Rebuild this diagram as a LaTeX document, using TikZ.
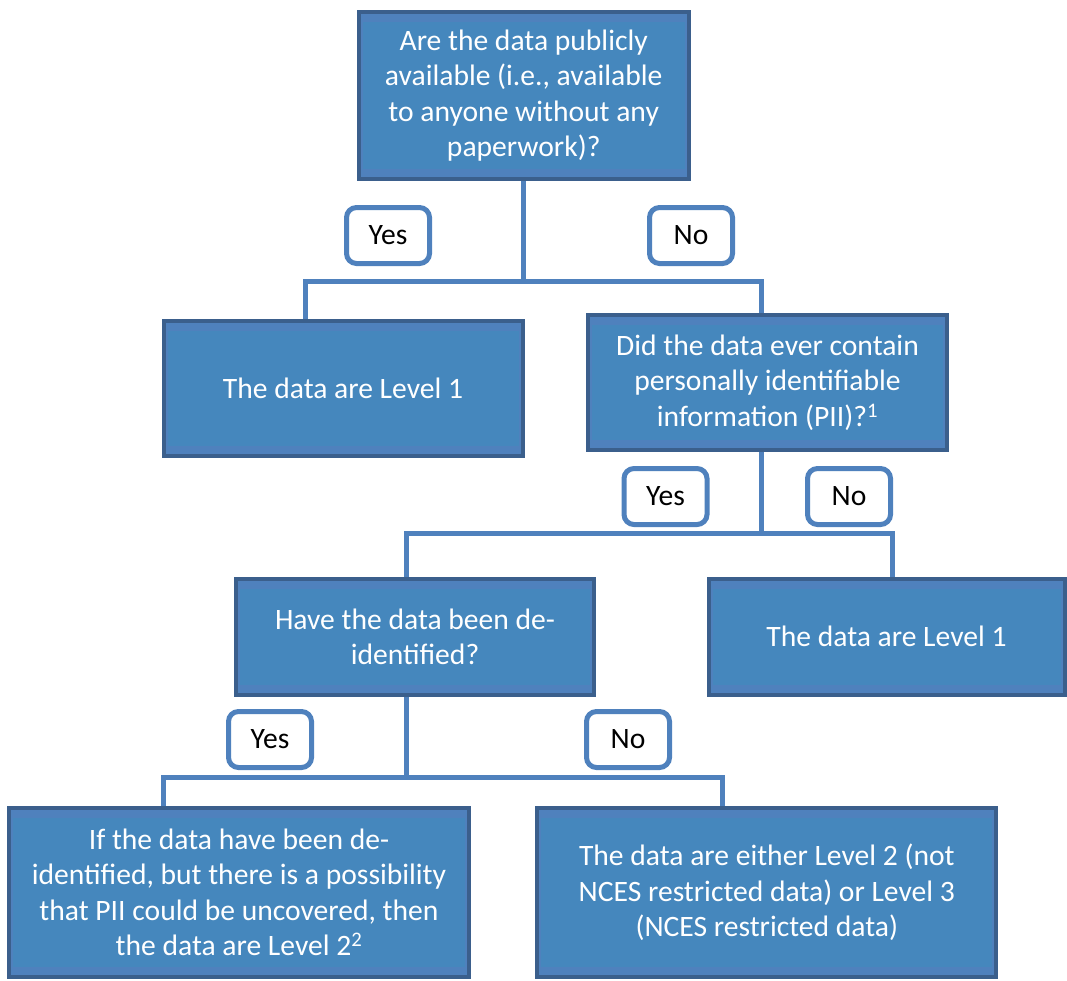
\documentclass[tikz,border=0pt]{standalone}
\usepackage{fontspec}
\setmainfont{Carlito}
\definecolor{boxfill}{HTML}{4587BD}
\definecolor{boxband}{HTML}{4F81BD}
\definecolor{boxedge}{HTML}{3B5F8C}
\definecolor{linec}{HTML}{4F81BD}
\tikzset{
 box/.style={draw=boxedge, line width=4pt, fill=boxfill, text=white, align=center,
  font=\fontsize{29.6}{35.4}\selectfont, inner sep=0pt,
  path picture={
   \fill[boxband] (path picture bounding box.north west) rectangle ([yshift=-10pt]path picture bounding box.north east);
   \fill[boxband] (path picture bounding box.south west) rectangle ([yshift=10pt]path picture bounding box.south east);
   \fill[boxband] (path picture bounding box.south west) rectangle ([xshift=4pt]path picture bounding box.north west);
   \fill[boxband] (path picture bounding box.south east) rectangle ([xshift=-4pt]path picture bounding box.north east);
  }},
 lbl/.style={draw=linec, line width=5pt, rounded corners=10pt, fill=white, text=black,
  minimum width=83pt, minimum height=56pt, font=\fontsize{29.6}{35.4}\selectfont, inner sep=0pt},
 conn/.style={draw=linec, line width=5pt}
}
\begin{document}
\begin{tikzpicture}[x=1pt,y=-1pt]
\useasboundingbox (0,0) rectangle (1067,980);
% boxes
\node[box, minimum width=330pt, minimum height=167pt] (q1) at (523.7,95.5)
 {Are the data publicly\\available (i.e., available\\to anyone without any\\paperwork)?};
\node[box, minimum width=359pt, minimum height=135pt] (l1) at (343,388.4) {The data are Level 1};
\node[box, minimum width=359pt, minimum height=135pt] (q2) at (767.5,382.5)
 {Did the data ever contain\\personally identifiable\\information (PII)?\textsuperscript{1}};
\node[box, minimum width=358pt, minimum height=116pt] (q3) at (415,636.8)
 {Have the data been de-\\identified?};
\node[box, minimum width=356pt, minimum height=116pt] (l1b) at (886.5,636.5) {The data are Level 1};
\node[box, minimum width=460pt, minimum height=169pt] (b1) at (239,892.5)
 {If the data have been de-\\identified, but there is a possibility\\that PII could be uncovered, then\\the data are Level 2\textsuperscript{2}};
\node[box, minimum width=459pt, minimum height=169pt] (b2) at (766.8,892.5)
 {The data are either Level 2 (not\\NCES restricted data) or Level 3\\(NCES restricted data)};
% junction points
\coordinate (j1) at (523.7,281);
\coordinate (j1a) at (305,281);
\coordinate (j1b) at (761,281);
\coordinate (j2) at (761,533);
\coordinate (j2a) at (406,533);
\coordinate (j2b) at (892,533);
\coordinate (j3) at (406,777);
\coordinate (j3a) at (163,777);
\coordinate (j3b) at (722.7,777);
% connectors
\draw[conn] (q1.south) -- (j1);
\draw[conn] (l1.north -| j1a) -- (j1a) -- (j1b) -- (q2.north -| j1b);
\draw[conn] (q2.south -| j2) -- (j2);
\draw[conn] (q3.north -| j2a) -- (j2a) -- (j2b) -- (l1b.north -| j2b);
\draw[conn] (q3.south -| j3) -- (j3);
\draw[conn] (b1.north -| j3a) -- (j3a) -- (j3b) -- (b2.north -| j3b);
% labels
\node[lbl] (yes1) at (388,235.5) {Yes};
\node[lbl] (no1) at (691,235.5) {No};
\node[lbl] (yes2) at (665.5,496.5) {Yes};
\node[lbl] (no2) at (849,496.5) {No};
\node[lbl] (yes3) at (270,739.5) {Yes};
\node[lbl] (no3) at (628,739.5) {No};
\end{tikzpicture}
\end{document}
